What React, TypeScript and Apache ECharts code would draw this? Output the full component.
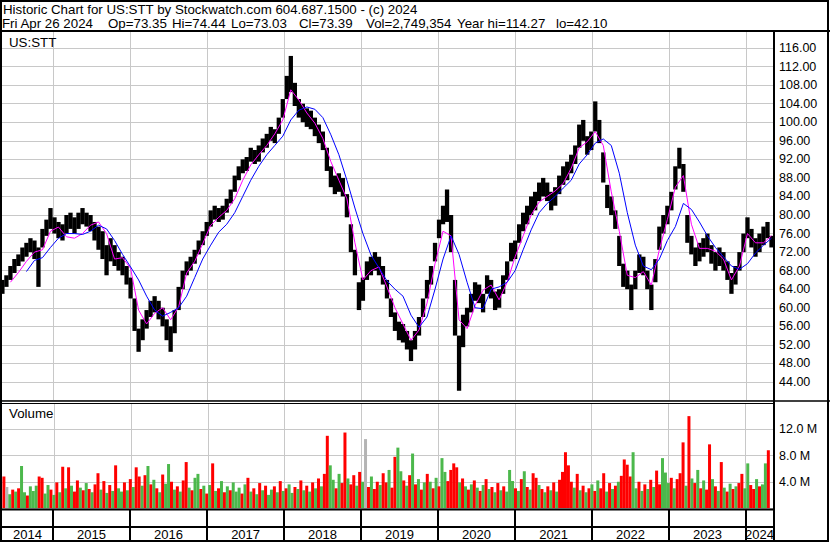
import React, { useEffect, useRef } from 'react';
import * as echarts from 'echarts';

const FONT = "'Liberation Sans', Arial, Helvetica, sans-serif";

// ---- data ----
const years = [2014, 2015, 2016, 2017, 2018, 2019, 2020, 2021, 2022, 2023, 2024];

// price samples every 19 days from 2014-05-06
const priceLow = [
  63,64.5,66,67.5,69,70,71,72,70.5,64.5,
  73,75.5,77,76,75,74.5,76,77,76,77,
  78,77.5,76.5,74.5,72.5,70.5,67,70,69,68,
  67,65,62,55,50.5,53,55.5,58,59,57.5,
  56,53,50.5,54.5,59.5,64,67,68,69.5,71.5,
  73.5,75.5,77.5,79,78.5,79,80.5,82.5,85,87.5,
  89,89.5,91.5,91,91.5,93.5,94.5,96,95.5,97.5,
  101,105,106.5,103.5,101,100,99,98.5,97,95.5,
  94,89.5,86,84.5,85,84,79.5,72,67,59.5,
  61.5,66,67,68,67,65,62,58,55,53,
  52.5,51,48.5,51,54,58,62,65,70,75,
  78,78.5,72,54,42.1,51.5,56,59,61.5,61,
  59,63,62,59.5,60,63,66,70,70.5,74,
  76.5,78,80,81,83,84,83,81,82,84.5,
  86.5,87.5,89,91,94.5,96,93,94,98,95.5,
  87,81.5,80,77,69,64.5,64,59.5,64,67.5,
  67,64,59.5,65.5,72.5,76,78,81,85.5,90,
  85,74,71.5,69,70,71,72,69.5,68,69,
  68,66,63,65,68,72,75,73,71,72,
  73.5,75,73
];
const priceHigh = [
  66,67,69,70.5,71.5,73,74,75,74.5,73,
  77,79,81.5,79.5,78.5,78,80,80.5,79.5,80.5,
  81.5,80.5,80,78.5,77.5,76.5,73.5,75,73.5,72,
  71,69,66.5,62,55.5,57.5,59.5,61.5,62.5,61.5,
  60,57.5,56,59.5,64.5,68,70,71,72.5,74.5,
  76.5,78.5,81,82,81.5,82,83.5,85.5,88.5,90.5,
  92,92.5,94.5,94,95,96.5,97.5,99,98.5,101,
  105,110,114.3,108.5,105,104,103,102.5,101,99.5,
  98,94.5,90.5,88.5,89,88,84.5,78,72.5,65.5,
  66.5,70,71,72,71,69,66,62,59,57,
  56.5,55,53,55,58,62,66,69,74,79,
  82,85.5,80,66,54,58.5,60,63,65.5,65,
  63,67,66,63.5,64,67,70,74,74.5,78,
  80.5,82,84,85,87,88,87,85,86,88.5,
  90.5,91.5,93,95,99.5,100.5,97,98,104.5,100.5,
  93.5,86.5,84,81,75.5,69.5,68,65,68,71.5,
  71,68,65,70.5,77.5,80,82,85,90.5,94.5,
  91,80,75.5,73,74,75,76,73.5,72,73,
  72,70,67.5,69,72,76,79.5,77,75,76,
  77.5,78.5,75.5
];

// moving averages sampled every 38 days from 2014-05-06
const maBlue = [
  null,null,null,67.8,70.2,70.8,73,75,76,76,
  75.8,76.5,77.8,77,74.5,71.5,68.8,66,62.5,59.5,
  58.2,59,60,62.5,66.5,70.5,73.5,76.3,78,80.5,
  84,87.5,90.5,93,95,97,100.5,102.6,103.3,102.8,
  101,97.3,93,87.5,81.5,76,71.4,68.6,65.8,64,
  62.5,58.4,55.8,58,64,70.5,75.5,71.5,65.5,60,
  59.8,64,64.5,65.5,68,72.5,76.8,80.5,82.5,84,
  85.8,87.5,91,93,95.5,96.4,95,89,80.5,73.5,
  69,68.2,70.5,74.5,77.5,82.5,81.2,78.5,75.5,73,
  71,69,68.3,69.5,71.8,73.5,75
];
const maMagenta = [
  null,65.5,67.6,70,72,72.5,76.5,77.4,75.3,75,
  76,77.8,78.5,76,70.5,70.8,68.5,59.5,56.5,58.8,
  60,57.4,60.2,67.5,70,73.8,77.8,79.5,81,83.5,
  87.5,90.8,93,95,97.5,100.5,107,104.8,102,99.8,
  96.5,91.5,87.5,83.5,74,66,68,68.8,64.5,60,
  56.5,53,55.2,61,69.5,76.5,75.5,57.4,55.5,60.5,
  63.8,64.9,61.7,65.5,71,75.5,80,82.8,84,85.2,
  86.8,90.1,94.5,95.8,98,95,85,76.5,67,66.5,
  67.8,64.9,72.5,79,86,88.5,78,72.8,72.8,72.2,
  70.5,66,69,76,74,74,75.5
];

// volume (millions) sampled every 14 days from 2014-05-06
const volume = [
  4.8,3.2,2.1,2.8,2.5,3.0,6.4,2.4,1.9,3.3,
  2.6,3.4,4.8,4.6,2.2,3.5,2.8,2.0,3.9,2.4,
  6.3,3.0,6.2,3.4,2.5,4.2,3.1,2.7,3.8,2.9,
  2.4,3.6,5.3,2.8,4.1,2.3,3.5,2.6,6.5,3.0,
  2.5,3.9,2.7,4.4,3.2,6.2,4.8,3.4,5.0,6.4,
  3.6,4.3,3.0,2.4,5.1,3.7,6.7,4.0,2.8,3.3,
  2.5,4.2,7.0,3.1,2.7,4.6,5.2,2.9,3.4,2.2,
  3.5,6.8,2.6,3.0,4.1,2.4,3.3,2.7,3.9,2.5,
  3.1,2.2,3.6,4.6,2.5,3.0,2.1,3.8,2.7,3.4,
  2.0,2.8,3.3,2.4,4.1,2.6,3.0,3.6,2.3,3.2,
  2.9,4.2,2.7,3.4,2.5,3.9,3.0,4.5,3.3,5.2,
  11.0,6.5,4.3,3.0,5.2,3.8,11.5,4.5,3.6,5.0,
  3.4,5.5,4.0,10.5,3.2,4.8,2.9,4.0,3.5,5.3,
  3.9,5.8,3.1,7.8,9.2,5.6,4.2,3.4,5.0,8.3,
  3.6,4.4,2.8,3.9,5.2,4.0,3.0,4.6,3.3,7.6,
  5.5,4.1,5.8,6.8,6.2,3.9,4.5,3.3,2.8,3.6,
  4.2,3.1,2.6,3.5,4.4,2.9,3.2,2.4,3.8,2.7,
  3.3,2.5,5.8,4.1,3.0,2.6,4.4,5.6,3.2,2.8,
  5.3,4.6,3.5,2.9,2.4,3.3,2.7,3.9,2.5,4.3,
  5.5,8.5,6.5,4.0,3.1,5.2,2.7,3.4,2.4,3.0,
  3.6,2.6,4.2,3.0,5.3,2.5,3.8,2.9,3.4,4.0,
  4.9,7.4,6.6,4.8,8.5,3.0,4.0,2.6,3.6,2.9,
  4.3,3.2,5.7,3.6,7.6,5.4,3.8,4.6,3.0,4.4,
  5.3,10.0,3.4,14.0,4.5,3.8,5.8,3.0,4.2,2.8,
  9.7,4.4,3.3,2.6,7.0,3.1,2.5,3.7,2.9,3.3,
  3.8,5.2,3.0,6.8,3.5,2.9,4.4,3.3,3.6,6.8,8.8
];
const volumeColors = [
  'rxgrgrggrg','ggrrggrgrg','rgrgrrgrgr','grrgrgrgrg','grgrgrrgrg',
  'rgrgrggrgr','grrgrggrgr','grgrgrgrgg','grgrgrgrgr','ggrgrgrggr',
  'grgrgrgrgr','rggrgrrgrr','grgxrgrrgr','rgrrggrgrg','rgrgrgrgrg',
  'grrrrgrgrg','rgrgrgrgrg','rgggrgrgrg','rrgrgrgrgr','rrrrgrgrgr',
  'grgrrgrgrg','rrrrggrgrg','rgrrgggrgr','rrgrgrgrgr','rgrgrgrgrg',
  'rrggrrgrggr'
].join('');

// ---- layout helpers ----
const DAY = 86400000;
const START = Date.UTC(2014, 4, 6);
const Y2015 = Date.UTC(2015, 0, 1);
const Y2024 = Date.UTC(2024, 0, 1);
const MS_PER_PX = (Y2024 - Y2015) / 693;
const X_MIN = Y2015 - 51 * MS_PER_PX;
const X_MAX = Y2024 + 27 * MS_PER_PX;

const COLOR_MAP: Record<string, string> = { r: '#ff0000', g: '#4cb84c', x: '#b4b4b4' };

export default function App() {
  const ref = useRef<HTMLDivElement>(null);
  useEffect(() => {
    const chart = echarts.init(ref.current!, null, { renderer: 'svg' });

    const rangeData = priceLow.map((lo, i) => [START + i * 19 * DAY, lo, priceHigh[i]]);
    const maPoints = (arr: (number | null)[]) =>
      arr
        .map((v, k) => (v == null ? null : [START + k * 38 * DAY, v]))
        .filter((p) => p != null);
    const volData = volume.map((v, j) => ({
      value: [START + j * 14 * DAY, v],
      itemStyle: { color: COLOR_MAP[volumeColors[j]] },
    }));
    const boundaries = years.slice(1).map((y) => [Date.UTC(y, 0, 1), 0]);
    const yearSpans = years.map((y) => [
      Math.max(Date.UTC(y, 0, 1), X_MIN),
      Math.min(Date.UTC(y + 1, 0, 1), X_MAX),
      0.5,
      y,
    ]);

    const vLine = (color: string, width: number) => (params: any, api: any) => {
      const x = Math.round(api.coord([api.value(0), 0])[0]) + (width % 2 ? 0.5 : 0);
      const cs = params.coordSys;
      return {
        type: 'line',
        shape: { x1: x, y1: cs.y, x2: x, y2: cs.y + cs.height },
        style: { stroke: color, lineWidth: width },
      };
    };

    const xAxisBase = (gridIndex: number) => ({
      type: 'time',
      gridIndex,
      min: X_MIN,
      max: X_MAX,
      show: false,
      splitLine: { show: false },
    });

    const txt = (text: string, x: number, y: number, extra: any = {}) => ({
      type: 'text',
      x,
      y,
      z: 60,
      style: {
        text,
        fill: '#000',
        fontSize: 13.3,
        fontFamily: FONT,
        textVerticalAlign: 'middle',
        verticalAlign: 'middle',
        ...extra,
      },
    });
    const ln = (x1: number, y1: number, x2: number, y2: number, w: number) => ({
      type: 'line',
      z: 60,
      shape: { x1, y1, x2, y2 },
      style: { stroke: '#000', lineWidth: w },
    });

    chart.setOption({
      animation: false,
      backgroundColor: '#ffffff',
      grid: [
        { left: 2, right: 57, top: 29.5, height: 371 },
        { left: 2, right: 57, top: 403, height: 105 },
        { left: 2, right: 57, top: 510, height: 31 },
      ],
      xAxis: [xAxisBase(0), xAxisBase(1), xAxisBase(2)],
      yAxis: [
        {
          type: 'value',
          gridIndex: 0,
          position: 'right',
          min: 40,
          max: 120,
          interval: 4,
          axisLine: { show: false },
          axisTick: { show: false },
          splitLine: { lineStyle: { color: '#c8c8c8', width: 1 } },
          axisLabel: {
            margin: 6,
            color: '#000',
            fontSize: 12.5,
            fontFamily: FONT,
            formatter: (v: number) => (v <= 40 || v >= 120 ? '' : v.toFixed(2)),
          },
        },
        {
          type: 'value',
          gridIndex: 1,
          position: 'right',
          min: 0,
          max: 16,
          interval: 4,
          axisLine: { show: false },
          axisTick: { show: false },
          splitLine: { lineStyle: { color: '#c8c8c8', width: 1 } },
          axisLabel: {
            margin: 6,
            color: '#000',
            fontSize: 12.5,
            fontFamily: FONT,
            formatter: (v: number) => (v <= 0 || v >= 16 ? '' : v.toFixed(1) + ' M'),
          },
        },
        { type: 'value', gridIndex: 2, min: 0, max: 1, show: false, splitLine: { show: false } },
      ],
      series: [
        {
          type: 'custom',
          xAxisIndex: 0,
          yAxisIndex: 0,
          z: 1,
          silent: true,
          data: boundaries,
          renderItem: vLine('#c8c8c8', 1),
        },
        {
          type: 'custom',
          xAxisIndex: 0,
          yAxisIndex: 0,
          z: 2,
          silent: true,
          encode: { x: 0, y: [1, 2] },
          data: rangeData,
          renderItem: (params: any, api: any) => {
            const pLo = api.coord([api.value(0), api.value(1)]);
            const pHi = api.coord([api.value(0), api.value(2)]);
            return {
              type: 'rect',
              shape: { x: pLo[0] - 2.15, y: pHi[1], width: 4.3, height: pLo[1] - pHi[1] },
              style: { fill: '#000' },
            };
          },
        },
        {
          type: 'line',
          xAxisIndex: 0,
          yAxisIndex: 0,
          symbol: 'none',
          z: 3,
          lineStyle: { color: '#ff00ff', width: 1 },
          data: maPoints(maMagenta),
        },
        {
          type: 'line',
          xAxisIndex: 0,
          yAxisIndex: 0,
          symbol: 'none',
          z: 4,
          lineStyle: { color: '#0000ff', width: 1 },
          data: maPoints(maBlue),
        },
        {
          type: 'custom',
          xAxisIndex: 1,
          yAxisIndex: 1,
          z: 1,
          silent: true,
          data: boundaries,
          renderItem: vLine('#c8c8c8', 1),
        },
        {
          type: 'bar',
          xAxisIndex: 1,
          yAxisIndex: 1,
          barWidth: 3,
          z: 2,
          data: volData,
        },
        {
          type: 'custom',
          xAxisIndex: 2,
          yAxisIndex: 2,
          z: 5,
          silent: true,
          data: boundaries,
          renderItem: vLine('#000', 2),
        },
        {
          type: 'custom',
          xAxisIndex: 2,
          yAxisIndex: 2,
          z: 5,
          silent: true,
          encode: { x: [0, 1], y: 2 },
          data: yearSpans,
          renderItem: (params: any, api: any) => {
            const x0 = api.coord([api.value(0), 0])[0];
            const x1 = api.coord([api.value(1), 0])[0];
            const cs = params.coordSys;
            return {
              type: 'text',
              x: (x0 + x1) / 2,
              y: cs.y + cs.height - 6.5,
              style: {
                text: String(api.value(3)),
                fill: '#000',
                fontSize: 13,
                fontFamily: FONT,
                align: 'center',
                verticalAlign: 'middle',
                textAlign: 'center',
                textVerticalAlign: 'middle',
              },
            };
          },
        },
      ],
      graphic: [
        { type: 'rect', z: 50, shape: { x: 0, y: 0, width: 830, height: 31 }, style: { fill: '#fff' } },
        txt('Historic Chart for US:STT by Stockwatch.com 604.687.1500 - (c) 2024', 3, 9),
        txt('Fri Apr 26 2024', 2, 23),
        txt('Op=73.35', 108, 23),
        txt('Hi=74.44', 172, 23),
        txt('Lo=73.03', 231, 23),
        txt('Cl=73.39', 299, 23),
        txt('Vol=2,749,354', 366, 23),
        txt('Year hi=114.27', 457, 23),
        txt('lo=42.10', 556, 23),
        txt('US:STT', 9, 42),
        txt('Volume', 9, 413),
        ln(0, 31, 830, 31, 2),
        ln(774, 31, 774, 541, 2),
        ln(0, 401, 830, 401, 1.5),
        ln(0, 403.5, 774, 403.5, 1),
        ln(0, 509.5, 774, 509.5, 2),
        ln(0, 527, 774, 527, 2),
        {
          type: 'rect',
          z: 60,
          shape: { x: 1, y: 1, width: 827, height: 540 },
          style: { fill: 'none', stroke: '#000', lineWidth: 2 },
        },
      ],
    });
    return () => chart.dispose();
  }, []);
  return (
    <div
      ref={ref}
      style={{ position: 'fixed', left: 0, top: 0, width: 830, height: 543, background: '#fff' }}
    />
  );
}
